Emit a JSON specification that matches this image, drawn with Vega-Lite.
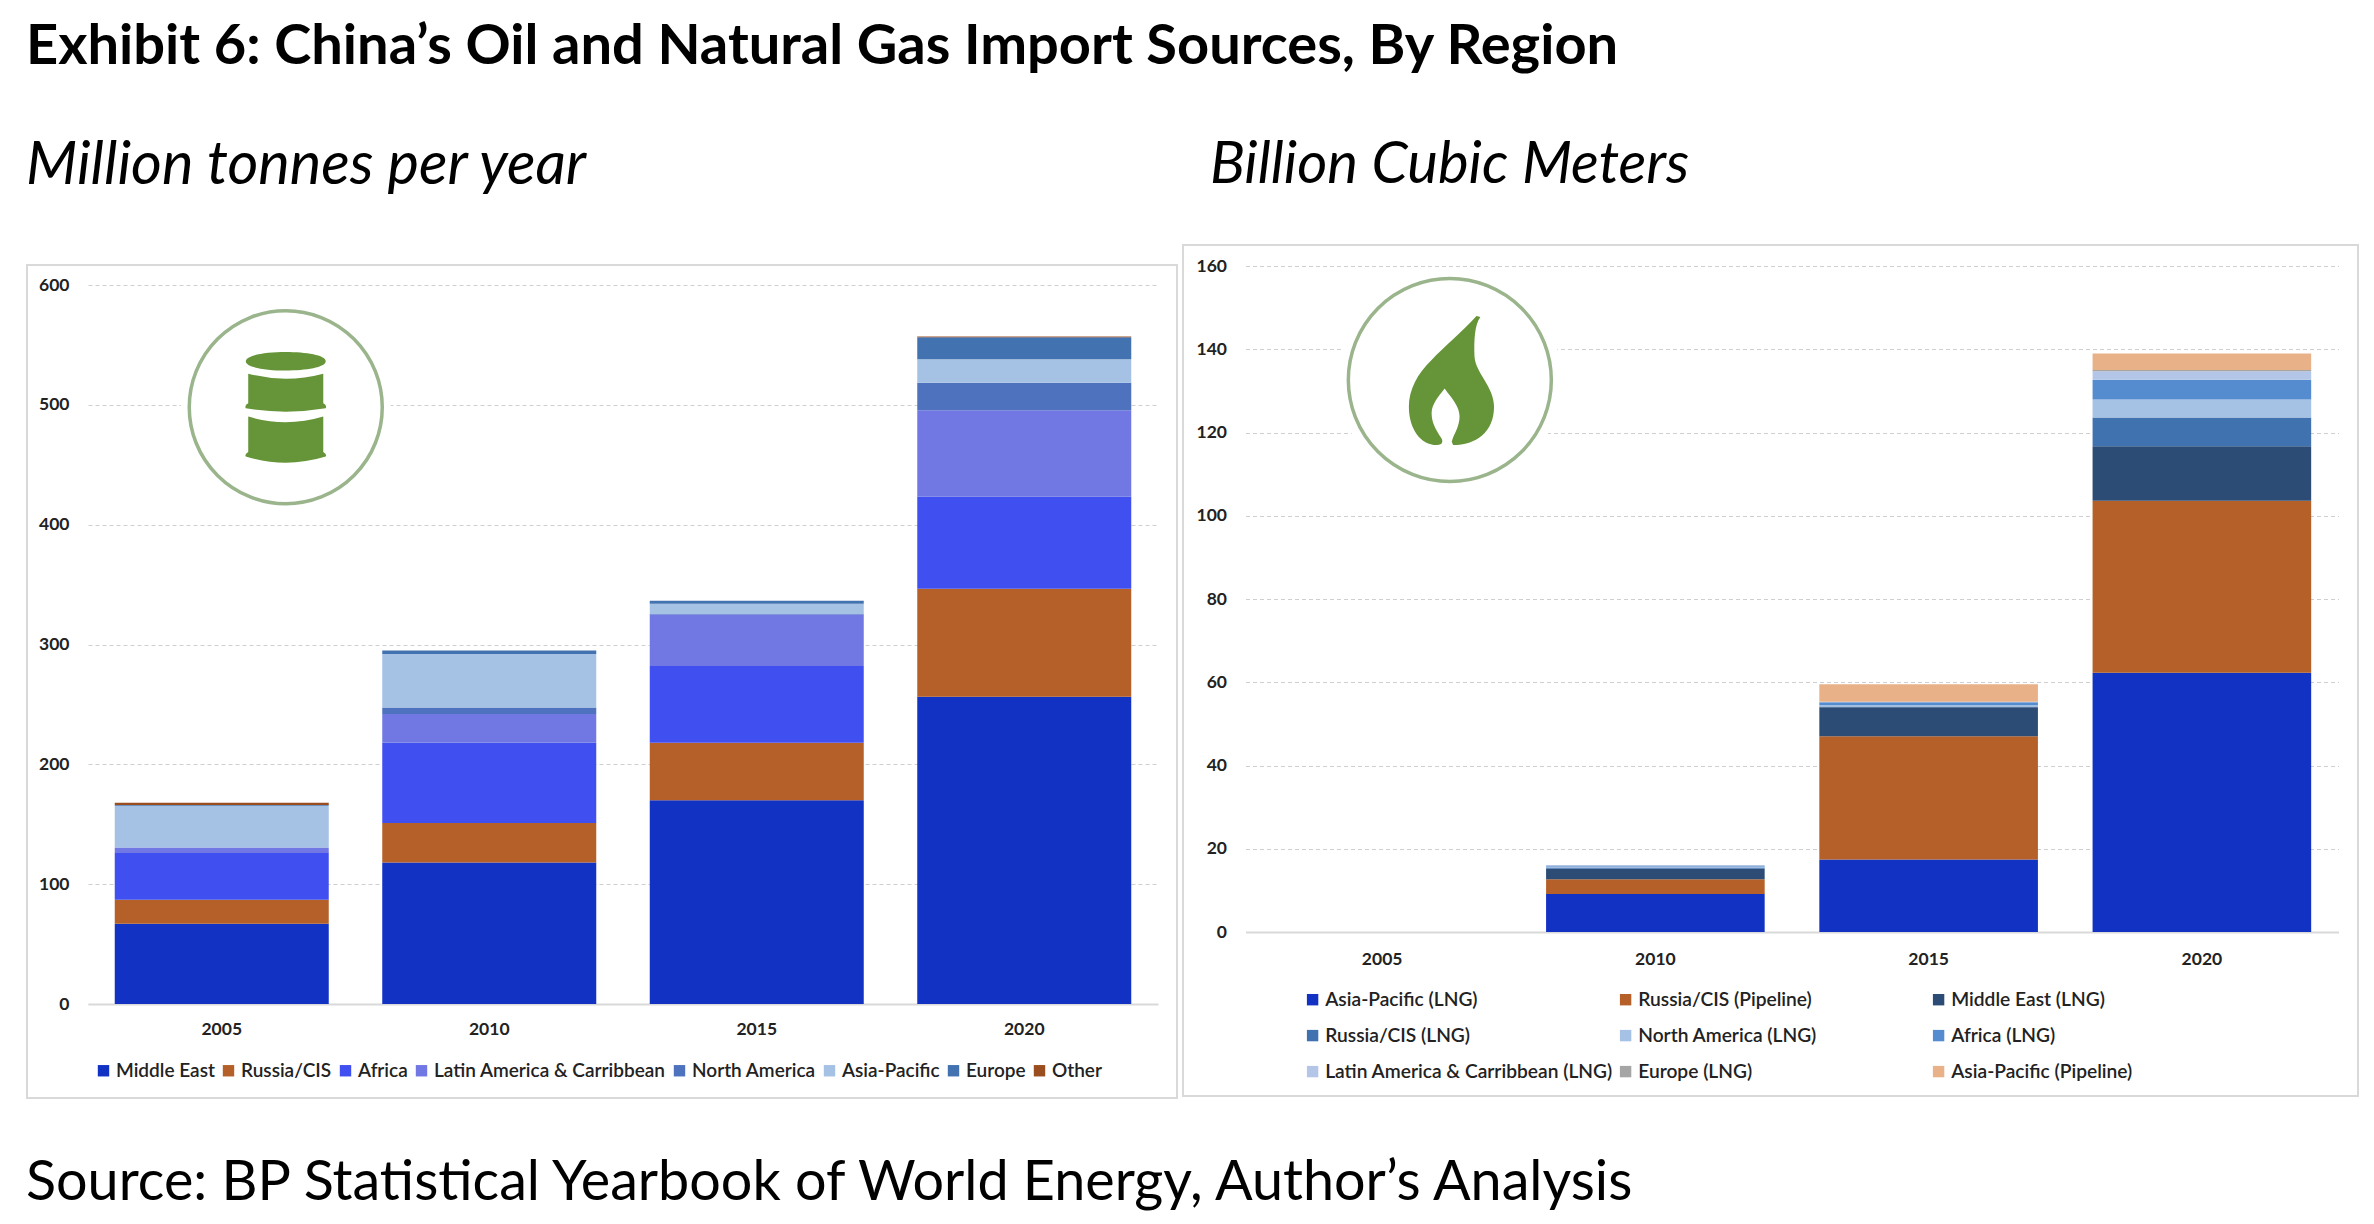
{"$schema":"https://vega.github.io/schema/vega-lite/v6.json","background":"white","padding":{"left":26,"top":18,"right":10,"bottom":5},"config":{"view":{"stroke":null},"font":"Lato"},"title":{"text":"Exhibit 6: China’s Oil and Natural Gas Import Sources, By Region","font":"Lato","fontSize":56,"fontWeight":"bold","color":"#000000","anchor":"start","offset":60},"resolve":{"scale":{"color":"independent"},"legend":{"color":"independent"}},"datasets":{"oil":[{"year":"2005","region":"Middle East","k":1,"v":67},{"year":"2005","region":"Russia/CIS","k":2,"v":20},{"year":"2005","region":"Africa","k":3,"v":39},{"year":"2005","region":"Latin America & Carribbean","k":4,"v":4.5},{"year":"2005","region":"Asia-Pacific","k":6,"v":35},{"year":"2005","region":"Europe","k":7,"v":0.5},{"year":"2005","region":"Other","k":8,"v":2},{"year":"2010","region":"Middle East","k":1,"v":118},{"year":"2010","region":"Russia/CIS","k":2,"v":33},{"year":"2010","region":"Africa","k":3,"v":67},{"year":"2010","region":"Latin America & Carribbean","k":4,"v":24},{"year":"2010","region":"North America","k":5,"v":5.5},{"year":"2010","region":"Asia-Pacific","k":6,"v":44.5},{"year":"2010","region":"Europe","k":7,"v":3},{"year":"2015","region":"Middle East","k":1,"v":170},{"year":"2015","region":"Russia/CIS","k":2,"v":48},{"year":"2015","region":"Africa","k":3,"v":64},{"year":"2015","region":"Latin America & Carribbean","k":4,"v":43},{"year":"2015","region":"North America","k":5,"v":0.5},{"year":"2015","region":"Asia-Pacific","k":6,"v":8.5},{"year":"2015","region":"Europe","k":7,"v":2.5},{"year":"2020","region":"Middle East","k":1,"v":256.5},{"year":"2020","region":"Russia/CIS","k":2,"v":90},{"year":"2020","region":"Africa","k":3,"v":77},{"year":"2020","region":"Latin America & Carribbean","k":4,"v":72},{"year":"2020","region":"North America","k":5,"v":23},{"year":"2020","region":"Asia-Pacific","k":6,"v":19.5},{"year":"2020","region":"Europe","k":7,"v":18.5},{"year":"2020","region":"Other","k":8,"v":0.5}],"gas":[{"year":"2005","region":"Asia-Pacific (LNG)","k":1,"v":0},{"year":"2010","region":"Asia-Pacific (LNG)","k":1,"v":9.1},{"year":"2010","region":"Russia/CIS (Pipeline)","k":2,"v":3.6},{"year":"2010","region":"Middle East (LNG)","k":3,"v":2.5},{"year":"2010","region":"Russia/CIS (LNG)","k":4,"v":0.3},{"year":"2010","region":"North America (LNG)","k":5,"v":0.1},{"year":"2010","region":"Africa (LNG)","k":6,"v":0.2},{"year":"2010","region":"Latin America & Carribbean (LNG)","k":7,"v":0.3},{"year":"2015","region":"Asia-Pacific (LNG)","k":1,"v":17.4},{"year":"2015","region":"Russia/CIS (Pipeline)","k":2,"v":29.6},{"year":"2015","region":"Middle East (LNG)","k":3,"v":7},{"year":"2015","region":"Russia/CIS (LNG)","k":4,"v":0.2},{"year":"2015","region":"North America (LNG)","k":5,"v":0.3},{"year":"2015","region":"Africa (LNG)","k":6,"v":0.7},{"year":"2015","region":"Latin America & Carribbean (LNG)","k":7,"v":0.1},{"year":"2015","region":"Asia-Pacific (Pipeline)","k":9,"v":4.2},{"year":"2020","region":"Asia-Pacific (LNG)","k":1,"v":62.3},{"year":"2020","region":"Russia/CIS (Pipeline)","k":2,"v":41.3},{"year":"2020","region":"Middle East (LNG)","k":3,"v":13.1},{"year":"2020","region":"Russia/CIS (LNG)","k":4,"v":6.9},{"year":"2020","region":"North America (LNG)","k":5,"v":4.3},{"year":"2020","region":"Africa (LNG)","k":6,"v":4.8},{"year":"2020","region":"Latin America & Carribbean (LNG)","k":7,"v":2},{"year":"2020","region":"Europe (LNG)","k":8,"v":0.3},{"year":"2020","region":"Asia-Pacific (Pipeline)","k":9,"v":4}]},"vconcat":[{"title":{"text":"Source: BP Statistical Yearbook of World Energy, Author’s Analysis","orient":"bottom","anchor":"start","font":"Lato","fontSize":55.7,"fontWeight":"normal","color":"#000000","offset":57},"spacing":4,"resolve":{"scale":{"color":"independent"},"legend":{"color":"independent"}},"hconcat":[{"title":{"text":"Million tonnes per year","font":"Lato","fontStyle":"italic","fontWeight":"normal","fontSize":59.5,"color":"#000000","anchor":"start","offset":49},"spacing":0,"vconcat":[{"width":1,"height":18.5,"data":{"values":[{}]},"mark":{"type":"text"},"encoding":{}},{"width":1150,"height":833,"view":{"stroke":"#d9d9d9","strokeWidth":2},"data":{"name":"oil"},"encoding":{"x":{"field":"year","type":"nominal","scale":{"range":[61,1131],"paddingInner":0.2,"paddingOuter":0.1},"axis":{"title":null,"labelAngle":0,"offset":-94,"labelFont":"Lato","labelFontSize":17.5,"labelFontWeight":"bold","labelColor":"#222222","labelPadding":16,"ticks":false,"domainColor":"#d9d9d9","domainWidth":2,"grid":false}},"y":{"type":"quantitative","scale":{"domain":[0,600],"range":[739,20]},"axis":{"title":null,"values":[0,100,200,300,400,500,600],"offset":-61,"labelFont":"Lato","labelFontSize":17.5,"labelFontWeight":"bold","labelColor":"#222222","labelPadding":19,"ticks":false,"domain":false,"grid":true,"gridColor":"#cfcfcf","gridDash":[4,3],"gridWidth":1}}},"layer":[{"mark":{"type":"bar"},"encoding":{"y":{"field":"v","type":"quantitative","stack":"zero"},"order":{"field":"k","type":"ordinal"},"color":{"field":"region","type":"nominal","sort":null,"scale":{"domain":["Middle East","Russia/CIS","Africa","Latin America & Carribbean","North America","Asia-Pacific","Europe","Other"],"range":["#1232c4","#b56028","#404ff0","#7178e3","#4e72bd","#a5c1e3","#4272b0","#9a4e1f"]},"legend":{"title":null,"orient":"none","legendX":67,"legendY":816,"direction":"horizontal","columns":8,"symbolType":"square","symbolSize":130,"symbolStrokeWidth":0,"labelFont":"Lato","labelFontSize":19,"labelFontWeight":600,"labelColor":"#222222","labelOffset":3,"columnPadding":4,"labelLimit":400}}}},{"data":{"values":[{}]},"mark":{"type":"point","shape":"circle","filled":true,"fill":"white","opacity":1,"size":44000,"xOffset":64},"encoding":{"x":{"datum":"2005"},"y":{"datum":498}}},{"data":{"values":[{}]},"mark":{"type":"point","shape":"circle","filled":false,"stroke":"#9ab48c","strokeWidth":3.5,"opacity":1,"size":37249,"xOffset":64},"encoding":{"x":{"datum":"2005"},"y":{"datum":498}}},{"data":{"values":[{}]},"mark":{"type":"point","filled":true,"fill":"#669438","opacity":1,"size":12544,"xOffset":64,"shape":"M-.714 -.82 C-.714 -1.04 .714 -1.04 .714 -.82 C.714 -.6 -.714 -.6 -.714 -.82 Z M-.67 -.6 Q0 -.42 .67 -.6 L.67 -.07 Q.74 -.04 .714 .02 Q0 .14 -.714 .02 Q-.74 -.04 -.67 -.07 Z M-.67 .167 Q0 .37 .67 .167 L.67 .8 Q.74 .84 .714 .88 Q0 1.1 -.714 .88 Q-.74 .84 -.67 .8 Z"},"encoding":{"x":{"datum":"2005"},"y":{"datum":498}}}]}]},{"title":{"text":"Billion Cubic Meters","font":"Lato","fontStyle":"italic","fontWeight":"normal","fontSize":58,"color":"#000000","anchor":"start","offset":50.5,"dx":27},"width":1175,"height":851,"view":{"stroke":"#d9d9d9","strokeWidth":2},"data":{"name":"gas"},"encoding":{"x":{"field":"year","type":"nominal","scale":{"range":[62.5,1155.5],"paddingInner":0.2,"paddingOuter":0.1},"axis":{"title":null,"labelAngle":0,"offset":-164,"labelFont":"Lato","labelFontSize":17.5,"labelFontWeight":"bold","labelColor":"#222222","labelPadding":18,"ticks":false,"domainColor":"#d9d9d9","domainWidth":2,"grid":false}},"y":{"type":"quantitative","scale":{"domain":[0,160],"range":[687,21]},"axis":{"title":null,"values":[0,20,40,60,80,100,120,140,160],"offset":-62.5,"labelFont":"Lato","labelFontSize":17.5,"labelFontWeight":"bold","labelColor":"#222222","labelPadding":19,"ticks":false,"domain":false,"grid":true,"gridColor":"#cfcfcf","gridDash":[4,3],"gridWidth":1}}},"layer":[{"mark":{"type":"bar"},"encoding":{"y":{"field":"v","type":"quantitative","stack":"zero"},"order":{"field":"k","type":"ordinal"},"color":{"field":"region","type":"nominal","sort":null,"scale":{"domain":["Asia-Pacific (LNG)","Russia/CIS (Pipeline)","Middle East (LNG)","Russia/CIS (LNG)","North America (LNG)","Africa (LNG)","Latin America & Carribbean (LNG)","Europe (LNG)","Asia-Pacific (Pipeline)"],"range":["#1232c4","#b56028","#2c4c75","#4072b0","#a5c1e3","#558ccf","#b4c6e7","#a5a5a5","#e9b188"]},"legend":{"title":null,"orient":"none","legendX":120,"legendY":745,"direction":"horizontal","columns":3,"gridAlign":"all","symbolType":"square","symbolSize":130,"symbolStrokeWidth":0,"labelFont":"Lato","labelFontSize":19.2,"labelFontWeight":600,"labelColor":"#222222","labelOffset":3,"columnPadding":3,"rowPadding":16,"labelLimit":400}}}},{"data":{"values":[{}]},"mark":{"type":"point","shape":"circle","filled":true,"fill":"white","opacity":1,"size":50000,"xOffset":67.7},"encoding":{"x":{"datum":"2005"},"y":{"datum":132.6}}},{"data":{"values":[{}]},"mark":{"type":"point","shape":"circle","filled":false,"stroke":"#9ab48c","strokeWidth":3.5,"opacity":1,"size":41209,"xOffset":67.7},"encoding":{"x":{"datum":"2005"},"y":{"datum":132.6}}},{"data":{"values":[{}]},"mark":{"type":"point","filled":true,"fill":"#669438","opacity":1,"size":16900,"xOffset":67.7,"shape":"M.41 -.985 C.2 -.75 -.1 -.5 -.28 -.31 C-.5 -.1 -.63 .15 -.63 .41 C-.63 .75 -.45 1 -.2 1 C-.1 1 -.1 .93 -.14 .88 C-.22 .75 -.28 .65 -.28 .51 C-.28 .37 -.17 .25 -.08 .13 C.02 .27 .15 .4 .15 .56 C.15 .72 .05 .85 .03 .95 L.05 1 C.4 1 .68 .8 .68 .41 C.68 .1 .4 -.1 .38 -.36 C.37 -.6 .38 -.85 .47 -.97 Z"},"encoding":{"x":{"datum":"2005"},"y":{"datum":132.6}}}]}]}]}
